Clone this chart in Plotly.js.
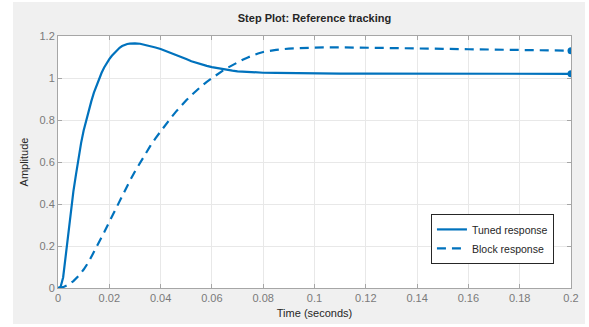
<!DOCTYPE html>
<html>
<head>
<meta charset="utf-8">
<script src="https://cdn.plot.ly/plotly-3.0.1.min.js"></script>
<style>
html,body{margin:0;padding:0;background:#ffffff;width:589px;height:327px;overflow:hidden;}
#chart{position:absolute;left:13px;top:2px;width:572px;height:322px;}
</style>
</head>
<body>
<div id="chart"></div>
<script>
const tunedT = [0, 0.001, 0.002, 0.003, 0.004, 0.005, 0.006, 0.007, 0.008, 0.009, 0.010, 0.011, 0.012, 0.013, 0.014, 0.015, 0.016, 0.017, 0.018, 0.019, 0.020, 0.021, 0.022, 0.023, 0.024, 0.025, 0.026, 0.027, 0.028, 0.029, 0.030, 0.032, 0.034, 0.036, 0.038, 0.040, 0.042, 0.044, 0.046, 0.048, 0.050, 0.052, 0.054, 0.056, 0.058, 0.060, 0.062, 0.064, 0.066, 0.068, 0.070, 0.072, 0.074, 0.076, 0.078, 0.080, 0.085, 0.090, 0.095, 0.100, 0.110, 0.120, 0.140, 0.160, 0.180, 0.200];
const tunedY = [0, 0.005, 0.05, 0.155, 0.265, 0.37, 0.46, 0.54, 0.62, 0.69, 0.75, 0.80, 0.85, 0.89, 0.93, 0.965, 0.995, 1.025, 1.05, 1.072, 1.09, 1.106, 1.12, 1.133, 1.144, 1.152, 1.158, 1.162, 1.164, 1.165, 1.165, 1.163, 1.158, 1.152, 1.145, 1.138, 1.129, 1.12, 1.11, 1.10, 1.09, 1.08, 1.072, 1.065, 1.058, 1.052, 1.047, 1.043, 1.039, 1.035, 1.032, 1.030, 1.028, 1.027, 1.026, 1.025, 1.024, 1.023, 1.022, 1.022, 1.021, 1.021, 1.02, 1.02, 1.02, 1.02];
const blockT = [0, 0.002, 0.004, 0.006, 0.008, 0.010, 0.012, 0.014, 0.016, 0.018, 0.020, 0.022, 0.024, 0.026, 0.028, 0.030, 0.032, 0.034, 0.036, 0.038, 0.040, 0.042, 0.044, 0.046, 0.048, 0.050, 0.052, 0.054, 0.056, 0.058, 0.060, 0.062, 0.064, 0.066, 0.068, 0.070, 0.072, 0.074, 0.076, 0.078, 0.080, 0.085, 0.090, 0.095, 0.100, 0.110, 0.120, 0.130, 0.140, 0.150, 0.160, 0.170, 0.180, 0.190, 0.200];
const blockY = [0, 0.004, 0.015, 0.033, 0.057, 0.088, 0.125, 0.17, 0.22, 0.265, 0.315, 0.365, 0.415, 0.46, 0.51, 0.555, 0.598, 0.638, 0.677, 0.713, 0.747, 0.78, 0.81, 0.84, 0.868, 0.894, 0.918, 0.941, 0.962, 0.982, 1.0, 1.017, 1.033, 1.048, 1.062, 1.075, 1.087, 1.098, 1.108, 1.117, 1.124, 1.134, 1.14, 1.143, 1.145, 1.146, 1.145, 1.143, 1.141, 1.139, 1.137, 1.135, 1.133, 1.131, 1.13];
const seriesNames = ["Tuned response", "Block response"];
const xTicks = [0, 0.02, 0.04, 0.06, 0.08, 0.1, 0.12, 0.14, 0.16, 0.18, 0.2];
const xTickText = ["0", "0.02", "0.04", "0.06", "0.08", "0.1", "0.12", "0.14", "0.16", "0.18", "0.2"];
const yTicks = [0, 0.2, 0.4, 0.6, 0.8, 1, 1.2];
const yTickText = ["0", "0.2", "0.4", "0.6", "0.8", "1", "1.2"];

const blue = '#0072BD';
const font = 'Liberation Sans, Arial, sans-serif';
const traces = [
  {x: tunedT, y: tunedY, name: seriesNames[0], mode: 'lines', line: {color: blue, width: 2.2}},
  {x: blockT, y: blockY, name: seriesNames[1], mode: 'lines', line: {color: blue, width: 2.2, dash: '9px,6px'}},
  {x: [tunedT[tunedT.length-1]], y: [tunedY[tunedY.length-1]], mode: 'markers', marker: {color: blue, size: 7}, showlegend: false, hoverinfo: 'skip'},
  {x: [blockT[blockT.length-1]], y: [blockY[blockY.length-1]], mode: 'markers', marker: {color: blue, size: 7}, showlegend: false, hoverinfo: 'skip'}
];
const axisCommon = {
  showline: true, linecolor: '#a6a6a6', linewidth: 1, mirror: 'ticks',
  ticks: 'inside', ticklen: 4, tickcolor: '#a6a6a6',
  showgrid: true, gridcolor: '#e8e8e8', gridwidth: 1, zeroline: false,
  tickfont: {family: font, size: 11, color: '#7a7a7a'}
};
const layout = {
  width: 572, height: 322,
  paper_bgcolor: '#f0f0f0', plot_bgcolor: '#ffffff',
  margin: {l: 45, r: 14, t: 34, b: 36},
  title: {text: '<b>Step Plot: Reference tracking</b>', x: 0.5, xref: 'paper', y: 0.95, yanchor: 'middle',
          font: {family: font, size: 11, color: '#262626'}},
  xaxis: Object.assign({}, axisCommon, {range: [0, 0.2], tickvals: xTicks, ticktext: xTickText,
          title: {text: 'Time (seconds)', standoff: 6, font: {family: font, size: 11, color: '#262626'}}}),
  yaxis: Object.assign({}, axisCommon, {range: [0, 1.2], tickvals: yTicks, ticktext: yTickText,
          title: {text: 'Amplitude', standoff: 8, font: {family: font, size: 11, color: '#262626'}}}),
  showlegend: true,
  legend: {x: 0.727, y: 0.294, xanchor: 'left', yanchor: 'top', bgcolor: '#ffffff', bordercolor: '#262626', borderwidth: 1,
           font: {family: font, size: 10.5, color: '#262626'}, itemwidth: 30, tracegroupgap: 0}
};
Plotly.newPlot('chart', traces, layout, {displayModeBar: false, staticPlot: true});
</script>
</body>
</html>
